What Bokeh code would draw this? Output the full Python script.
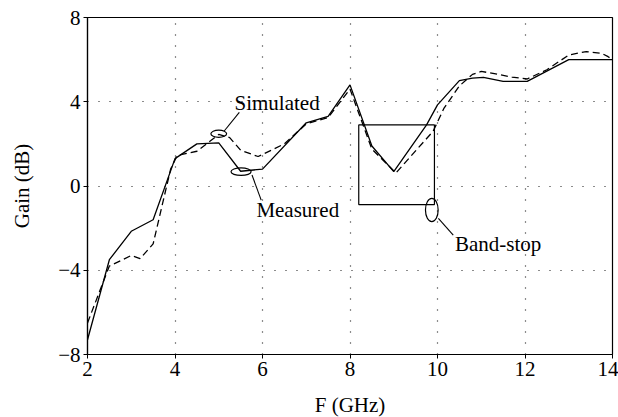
from bokeh.plotting import figure
from bokeh.models import Label, FixedTicker
from bokeh.embed import file_html
from bokeh.resources import INLINE

# ---- data ----
freq_meas = [2.0, 2.5, 3.0, 3.5, 4.0, 4.5, 5.0, 5.5, 6.0, 7.0, 7.5, 8.0, 8.5, 9.0,
             9.75, 10.0, 10.5, 10.8, 11.05, 11.5, 12.05, 13.0, 14.0]
gain_meas = [-7.3, -3.5, -2.15, -1.6, 1.3, 2.0, 2.05, 0.7, 0.8, 3.0, 3.3, 4.8, 1.9, 0.68,
             2.9, 3.85, 5.0, 5.12, 5.16, 4.97, 4.97, 6.0, 6.0]

freq_sim = [2.0, 2.5, 3.0, 3.2, 3.5, 3.9, 4.05, 4.5, 5.0, 5.25, 5.5, 5.9, 6.5, 7.0, 7.5,
            8.0, 8.5, 9.05, 9.9, 10.15, 10.5, 10.8, 11.0, 11.4, 11.7, 12.05, 12.5, 13.0,
            13.4, 13.75, 13.9, 14.0]
gain_sim = [-6.5, -3.8, -3.3, -3.45, -2.75, 0.8, 1.45, 1.65, 2.45, 2.3, 1.7, 1.4, 2.0, 2.95,
            3.25, 4.6, 1.75, 0.62, 2.6, 3.7, 4.75, 5.3, 5.44, 5.3, 5.17, 5.08, 5.52, 6.22,
            6.38, 6.3, 6.14, 6.0]

x_ticks = [2, 4, 6, 8, 10, 12, 14]
y_ticks = [-8, -4, 0, 4, 8]
y_tick_labels = {-8: "\u22128", -4: "\u22124", 0: "0", 4: "4", 8: "8"}

# annotations: band-stop box [left, right, bottom, top]
band_box = [8.2, 9.93, -0.88, 2.9]
# ellipses: x, y, width, height
ell_x = [5.0, 5.51, 9.87]
ell_y = [2.48, 0.68, -1.14]
ell_w = [0.36, 0.46, 0.29]
ell_h = [0.34, 0.36, 1.1]
# leader lines
lead_x0 = [5.12, 5.76, 10.02]
lead_y0 = [2.6, 0.52, -1.54]
lead_x1 = [5.47, 5.97, 10.36]
lead_y1 = [3.5, -0.67, -2.33]
# annotation texts
ann_text = ["Simulated", "Measured", "Band-stop"]
ann_x = [5.36, 5.86, 10.4]
ann_y = [3.95, -1.14, -2.76]

FONT = "Liberation Serif"
FS = "21px"

p = figure(frame_width=525, frame_height=337,
           min_border_left=87, min_border_right=6, min_border_top=17, min_border_bottom=20,
           x_range=(2, 14), y_range=(-8, 8),
           output_backend="svg", toolbar_location=None)

p.background_fill_color = "white"
p.border_fill_color = "white"
p.outline_line_color = "black"
p.outline_line_width = 1.2

# grids
p.xgrid.ticker = FixedTicker(ticks=[4, 6, 8, 10, 12])
p.ygrid.ticker = FixedTicker(ticks=[-4, 0, 4])
for g in (p.xgrid, p.ygrid):
    g.grid_line_color = "black"
    g.grid_line_dash = "1 10"
    g.grid_line_width = 1.2
    g.grid_line_alpha = 0.9

# axes
p.xaxis.ticker = FixedTicker(ticks=x_ticks)
p.yaxis.ticker = FixedTicker(ticks=y_ticks)
p.yaxis.major_label_overrides = y_tick_labels
for ax in (p.xaxis, p.yaxis):
    ax.axis_line_color = "black"
    ax.axis_line_width = 1.2
    ax.major_tick_line_color = "black"
    ax.major_tick_in = 0
    ax.major_tick_out = 4
    ax.minor_tick_line_color = None
    ax.major_label_text_font = FONT
    ax.major_label_text_font_size = FS
    ax.major_label_text_color = "black"
    ax.major_label_standoff = 3
    ax.axis_label_text_font = FONT
    ax.axis_label_text_font_size = FS
    ax.axis_label_text_font_style = "normal"
    ax.axis_label_text_color = "black"
p.yaxis.axis_label = "Gain (dB)"
p.yaxis.axis_label_standoff = 21
p.xaxis.axis_label = "F (GHz)"
p.xaxis.axis_label_standoff = 14

# curves
p.line(freq_meas, gain_meas, line_color="black", line_width=1.3)
p.line(freq_sim, gain_sim, line_color="black", line_width=1.3, line_dash="7 4")

# band-stop box
p.quad(left=[band_box[0]], right=[band_box[1]], bottom=[band_box[2]], top=[band_box[3]],
       fill_alpha=0, line_color="black", line_width=1.2)

# ellipses and leader lines
p.ellipse(x=ell_x, y=ell_y, width=ell_w, height=ell_h, fill_alpha=0,
          line_color="black", line_width=1.2)
p.segment(x0=lead_x0, y0=lead_y0, x1=lead_x1, y1=lead_y1, line_color="black", line_width=1.1)

for t, x, y in zip(ann_text, ann_x, ann_y):
    p.add_layout(Label(x=x, y=y, text=t, text_font=FONT, text_font_size=FS,
                       text_baseline="middle", text_align="left", text_color="black"))

open("out.html", "w").write(file_html(p, INLINE))
